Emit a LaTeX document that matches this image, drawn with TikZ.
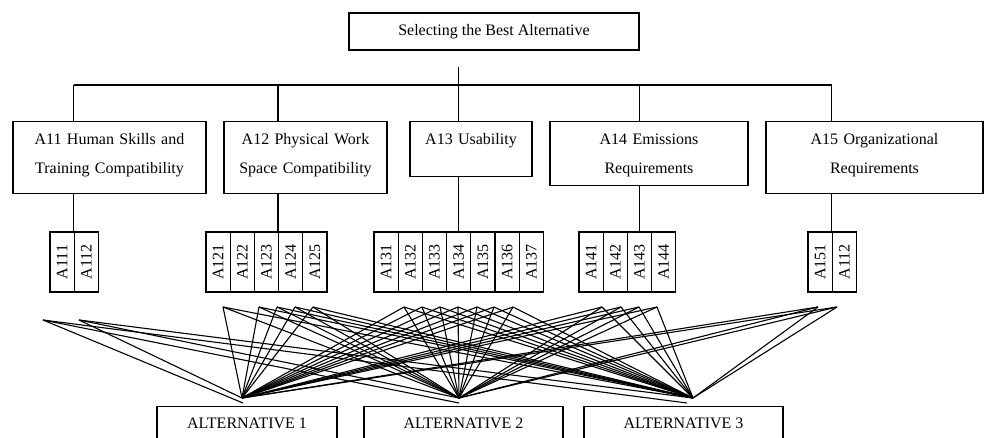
\documentclass[tikz,border=0pt]{standalone}
\usepackage{fontspec}
\setmainfont{Liberation Serif}
\usepackage{tikz}
\usetikzlibrary{positioning}

\begin{document}
\begin{tikzpicture}[x=1pt, y=-1pt, line width=1.2pt, font=\fontsize{16}{29}\selectfont,
		goalbox/.style={draw, minimum width=290pt, minimum height=37pt, inner sep=0pt},
		critbox/.style={draw, anchor=north, align=center, inner sep=0pt, text height=23pt, text depth=#1},
		subbox/.style={draw, rotate=90, minimum width=60pt, minimum height=24.2pt, inner sep=0pt},
		altbox/.style={draw, anchor=north, inner sep=0pt, text height=22pt, text depth=26pt},
		fan/.style={line width=1.1pt}]
				\useasboundingbox (0,0) rectangle (989,438);
				\clip (0,0) rectangle (989,438);

				\node[goalbox] (goal) at (494,31.5) {Selecting the Best Alternative};

				\node[critbox=49pt, text width=193pt] (a11) at (109.5,121) {A11 Human Skills and\\Training Compatibility};
				\node[critbox=49pt, text width=163pt] (a12) at (305.5,121) {A12 Physical Work\\Space Compatibility};
				\node[critbox=32pt, text width=122pt] (a13) at (471,121) {A13 Usability};
				\node[critbox=41pt, text width=198pt] (a14) at (649,121) {A14 Emissions\\Requirements};
				\node[critbox=49pt, text width=217pt] (a15) at (874.5,121) {A15 Organizational\\Requirements};

				% sub-criteria, one row per group
				\foreach \lab [count=\i] in {A111,A112}
					\node[subbox] (s1\i) at ({37.9+24.2*\i},262) {\lab};
				\foreach \lab [count=\i] in {A121,A122,A123,A124,A125}
					\node[subbox] (s2\i) at ({193.9+24.2*\i},262) {\lab};
				\foreach \lab [count=\i] in {A131,A132,A133,A134,A135,A136,A137}
					\node[subbox] (s3\i) at ({361.9+24.2*\i},262) {\lab};
				\foreach \lab [count=\i] in {A141,A142,A143,A144}
					\node[subbox] (s4\i) at ({566.9+24.2*\i},262) {\lab};
				\foreach \lab [count=\i] in {A151,A112}
					\node[subbox] (s5\i) at ({795.9+24.2*\i},262) {\lab};

				\node[altbox, minimum width=180pt] (alt1) at (247,406) {ALTERNATIVE 1};
				\node[altbox, minimum width=199pt] (alt2) at (463.5,406) {ALTERNATIVE 2};
				\node[altbox, minimum width=199pt] (alt3) at (683.5,406) {ALTERNATIVE 3};

				% tree
				\coordinate (bus) at (458.7,85);
				\draw ([yshift=-16pt]goal.south -| bus) -- (bus);
				\draw (bus -| s12.north east) -- (bus -| s52.north east);
				\foreach \c/\j in {a11/s12.north east, a12/s24.north east, a13/s34.east, a14/s43.east, a15/s52.north east}
					\draw (bus -| \j) -- (\c.north -| \j) (\c.south -| \j) -- (\j);

				% fan points and meeting points
				\foreach \p/\x/\y in {f11/43/320, f12/79/320, f21/223/307, f22/259/307, f23/277/307, f24/295/307, f25/313/307,
						f31/404/307, f32/422/307, f33/440/307, f34/458/307, f35/477/307, f36/494/307, f37/513/307,
						f41/602/307, f42/621/307, f43/639/307, f44/657/307, f51/818/307, f52/837/307}
					\coordinate (\p) at (\x,\y);
				\coordinate (c1) at (242,398);
				\coordinate (c2) at (459,398);
				\coordinate (c3) at (693,398);
				\coordinate (d1) at (243,403);
				\coordinate (d2) at (459,403);
				\coordinate (d3) at (687,403);

				\foreach \a in {1,2,3} {
					\draw[fan] (f11) -- (d\a);
					\foreach \p in {f12,f21,f22,f23,f24,f25,f31,f32,f33,f34,f35,f36,f37,f41,f42,f43,f44,f51,f52}
						\draw[fan] (\p) -- (c\a);
				}
			\end{tikzpicture}
\end{document}
